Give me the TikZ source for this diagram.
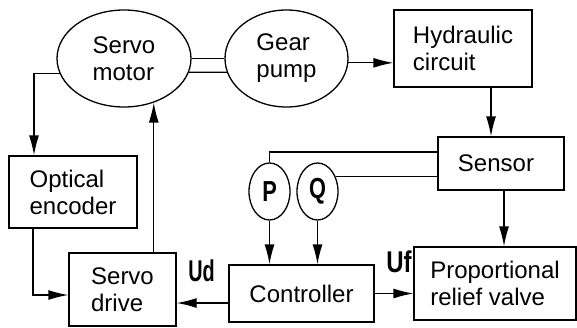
\documentclass[tikz,border=0pt]{standalone}
\usepackage{fontspec}
\setmainfont{Liberation Sans}
\usetikzlibrary{shapes.geometric,arrows.meta,calc}
\begin{document}
\begin{tikzpicture}[x=1pt,y=-1pt,
  line width=1.3pt,
  every node/.style={font=\fontsize{24}{27}\selectfont},
  blk/.style={draw,rectangle,inner sep=0pt,align=left},
  ell/.style={draw,ellipse,inner sep=0pt,align=left},
  arr/.style={-{Latex[length=20pt,width=10pt]}},
  sig/.style={inner sep=0pt,font=\fontsize{30}{30}\selectfont\bfseries}
]
\useasboundingbox (0,0) rectangle (577,327);
% nodes
\node[ell,minimum width=134pt,minimum height=97pt] (motor) at (124,58.5) {Servo\\motor};
\node[ell,minimum width=123pt,minimum height=97pt] (pump) at (286.5,58.5) {Gear\\pump};
\node[blk,minimum width=138pt,minimum height=77pt] (hyd) at (463,48.5) {Hydraulic\\circuit};
\node[blk,minimum width=126pt,minimum height=53pt] (sensor) at (501,163.5) {Sensor\hspace{10pt}};
\node[blk,minimum width=128pt,minimum height=72pt] (enc) at (73,192) {Optical\\encoder};
\node[blk,minimum width=107pt,minimum height=73pt] (drive) at (122.5,289.5) {Servo\\drive};
\node[blk,minimum width=145pt,minimum height=57pt] (ctrl) at (301.5,293.5) {Controller};
\node[blk,minimum width=162pt,minimum height=73pt] (prv) at (495,283.5) {Proportional\\relief valve};
\node[ell,minimum width=41pt,minimum height=57pt] (P) at (269.5,191.5) {\scalebox{0.75}[1]{\fontsize{29}{29}\selectfont\bfseries P}};
\node[ell,minimum width=41pt,minimum height=57pt] (Q) at (317.5,191.5) {\scalebox{0.75}[1]{\fontsize{29}{29}\selectfont\bfseries Q}};
\node[sig] (ud) at (201.5,271) {\scalebox{0.66}[1]{Ud}};
\node[sig] (uf) at (399,262) {\scalebox{0.8}[1]{Uf}};
% helper coordinates
\coordinate (s1) at ($(sensor.west)+(0,-11.5)$);
\coordinate (en1) at ($(enc.north)+(-39,0)$);
\coordinate (en2) at ($(enc.south)+(-40,0)$);
\coordinate (dr1) at ($(drive.west)+(0,5.5)$);
\coordinate (c1) at ($(ctrl.west)+(0,9.5)$);
\coordinate (h1) at ($(hyd.south)+(28,0)$);
\coordinate (s2) at ($(sensor.south)+(3,0)$);
% connectors
\draw (motor.east) -- (pump.west);
\draw (motor.-12) -- (pump.193);
\draw[arr] (pump.-4) -- (pump.-4 -| hyd.west);
\draw[arr] (h1) -- (h1 |- sensor.north);
\draw (s1) -| (P.north);
\draw (Q.40) -- (Q.40 -| sensor.west);
\draw[arr] (P.south) -- (P.south |- ctrl.north);
\draw[arr] (Q.south) -- (Q.south |- ctrl.north);
\draw[arr] (s2) -- (s2 |- prv.north);
\draw[arr] (ctrl.east) -- (ctrl.east -| prv.west);
\draw[arr] (c1) -- (c1 -| drive.east);
\draw[arr] (drive.north -| motor.-56) -- (motor.-56);
\draw[arr] (motor.193) -| (en1);
\draw[arr] (en2) |- (dr1);
\end{tikzpicture}
\end{document}
